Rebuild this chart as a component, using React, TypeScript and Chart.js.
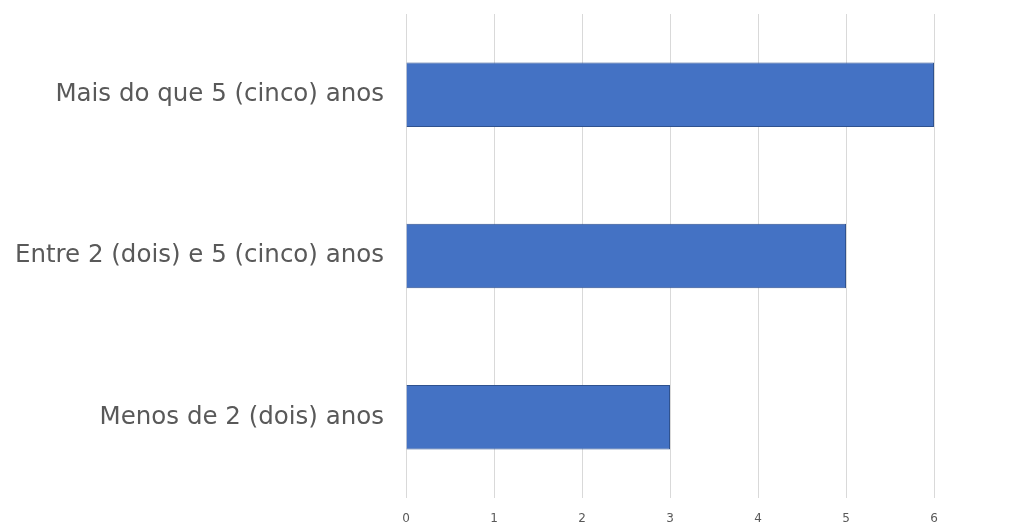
import React, { useEffect, useRef } from "react";
import { Chart, registerables } from "chart.js";

Chart.register(...registerables);

const categories = [
  "Mais do que 5 (cinco) anos",
  "Entre 2 (dois) e 5 (cinco) anos",
  "Menos de 2 (dois) anos",
];
const values = [6, 5, 3];
const xTicks = [0, 1, 2, 3, 4, 5, 6];

export default function App() {
  const ref = useRef<HTMLCanvasElement | null>(null);
  useEffect(() => {
    if (!ref.current) return;
    const chart = new Chart(ref.current, {
      type: "bar",
      data: {
        labels: categories,
        datasets: [
          {
            data: values,
            backgroundColor: "#4472C4",
            borderColor: "#2F528F",
            borderWidth: 1,
            categoryPercentage: 1,
            barPercentage: 0.4,
          },
        ],
      },
      options: {
        indexAxis: "y",
        animation: false,
        responsive: false,
        maintainAspectRatio: false,
        layout: { padding: { top: 14, right: 83, left: 0, bottom: 0 } },
        plugins: { legend: { display: false }, tooltip: { enabled: false } },
        scales: {
          x: {
            min: xTicks[0],
            max: xTicks[xTicks.length - 1],
            afterFit: (s: any) => {
              s.height = 30;
              s.paddingLeft = 0;
              s.paddingRight = 0;
            },
            afterBuildTicks: (s: any) => {
              s.ticks = xTicks.map((v) => ({ value: v }));
            },
            grid: { color: "#D9D9D9", drawTicks: false, lineWidth: 1 },
            border: { display: false },
            ticks: {
              padding: 14,
              color: "#595959",
              font: { family: "'DejaVu Sans', sans-serif", size: 12 },
            },
          },
          y: {
            afterFit: (s: any) => {
              s.width = 406;
              s.paddingTop = 0;
              s.paddingBottom = 0;
            },
            grid: { display: false, drawTicks: false },
            border: { display: false },
            ticks: {
              padding: 22,
              color: "#595959",
              font: { family: "'DejaVu Sans', sans-serif", size: 24.5 },
            },
          },
        },
      },
    });
    return () => chart.destroy();
  }, []);
  return (
    <canvas
      ref={ref}
      width={1017}
      height={528}
      style={{ position: "absolute", left: 0, top: 0, width: 1017, height: 528 }}
    />
  );
}
